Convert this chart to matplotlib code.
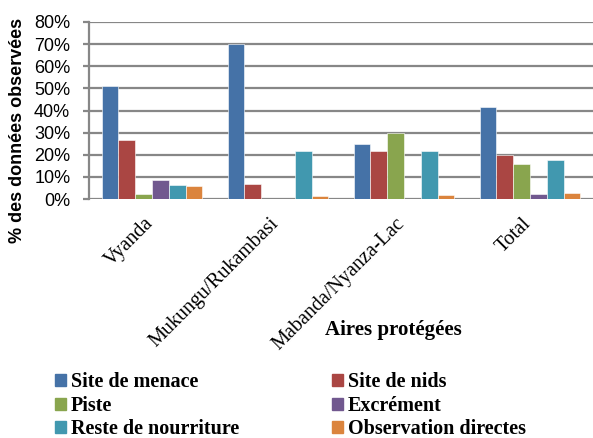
import matplotlib.pyplot as plt
from matplotlib.patches import Patch
from matplotlib.ticker import PercentFormatter
from matplotlib.transforms import ScaledTranslation
import numpy as np

# aires protegees (categories)
aires = ["Vyanda", "Mukungu/Rukambasi", "Mabanda/Nyanza-Lac", "Total"]
series = ["Site de menace", "Site de nids", "Piste", "Excrément",
          "Reste de nourriture", "Observation directes"]

# % des donnees observees, one list per series
menace = [51, 70, 25, 41.7]
nids = [26.5, 7, 21.7, 19.7]
piste = [2.2, 0, 29.9, 16]
excrement = [8.5, 0, 0, 2.2]
reste = [6.5, 21.8, 21.7, 17.8]
observation = [6, 1.5, 1.7, 2.8]

couleurs = ["#4572A7", "#AA4643", "#89A54E", "#71588F", "#4198AF", "#DB843D"]

data = [menace, nids, piste, excrement, reste, observation]

fig = plt.figure(figsize=(5.93, 4.38), dpi=100)
ax = fig.add_axes([89/593, 1-199/438, 504/593, 177/438])

x = np.arange(len(aires))
w = 0.8/len(series)
for i in range(len(series)):
    vals = [v/100 for v in data[i]]
    ax.bar(x - 0.4 + w*(i+0.5), vals, w, color=couleurs[i],
           edgecolor="#ffffff", linewidth=0.4, zorder=3)

ax.set_xlim(-0.5, len(aires)-0.5)
ax.set_ylim(0, 0.8)
ax.set_yticks(np.arange(0, 0.81, 0.1))
ax.yaxis.set_major_formatter(PercentFormatter(1.0, decimals=0))
ax.grid(axis="y", color="#878787", linewidth=1.6, zorder=0)
for s in ["top", "right", "bottom"]:
    ax.spines[s].set_visible(False)
ax.spines["left"].set_color("#878787")
ax.spines["left"].set_linewidth(1.6)
ax.tick_params(axis="y", length=4.5, width=1.6, color="#878787", pad=9,
               labelsize=13)
for t in ax.get_yticklabels():
    t.set_fontfamily("Liberation Sans")

ax.set_xticks(x)
ax.set_xticklabels(aires, rotation=45, ha="right", fontsize=14.5,
                   fontfamily="Liberation Serif")
ax.tick_params(axis="x", length=0, pad=11)
shift = ScaledTranslation(5/100, 0, fig.dpi_scale_trans)
for t in ax.get_xticklabels():
    t.set_transform(t.get_transform() + shift)

ax.set_ylabel("% des données observées", fontsize=13, fontweight="bold",
              fontfamily="Liberation Sans")
ax.yaxis.set_label_coords(-0.125, 0.39)

fig.text(393/593, 1-330/438, "Aires protégées", ha="center", va="center",
         fontsize=15, fontweight="bold", fontfamily="Liberation Serif")

# legend, filled row by row like the original
order = [0, 2, 4, 1, 3, 5]
handles = [Patch(color=couleurs[i]) for i in order]
labels = [series[i] for i in order]
leg = fig.legend(handles, labels, ncol=2, loc="upper left",
                 bbox_to_anchor=(45/593, 1-362/438), frameon=False,
                 prop={"family": "Liberation Serif", "weight": "bold", "size": 14.5},
                 handlelength=0.55, handleheight=0.55, handletextpad=0.25,
                 columnspacing=4.6, labelspacing=0.18, borderpad=0)

fig.savefig("out.png", dpi=100)
